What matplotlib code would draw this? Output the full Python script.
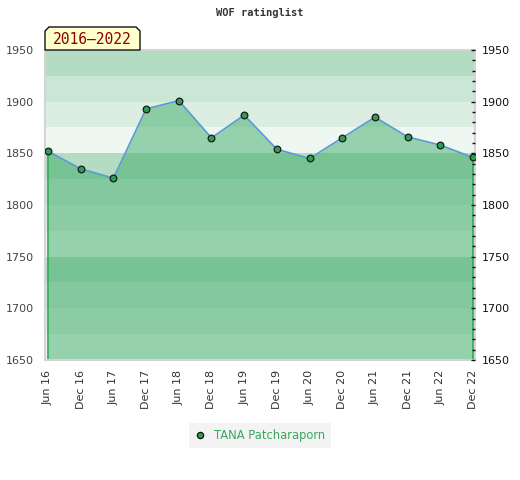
import matplotlib
matplotlib.use("Agg")
import matplotlib.pyplot as plt
import numpy as np
from matplotlib.patches import Polygon
from matplotlib.lines import Line2D
from matplotlib.ticker import MultipleLocator

periods = ["Jun 16", "Dec 16", "Jun 17", "Dec 17", "Jun 18", "Dec 18", "Jun 19",
           "Dec 19", "Jun 20", "Dec 20", "Jun 21", "Dec 21", "Jun 22", "Dec 22"]
ratings = [1852, 1835, 1826, 1893, 1901, 1865, 1887,
           1854, 1845, 1865, 1885, 1866, 1858, 1846]
player = "TANA Patcharaporn"
span_label = "2016\u20132022"

W, H = 520, 480
fig = plt.figure(figsize=(W / 100, H / 100), dpi=100)
ax = fig.add_axes([45 / W, 1 - 360 / H, 430 / W, 310 / H])

# background bands, repeating every 100 points
band_colors = ["#eef7f1", "#dcede2", "#cae6d5", "#b3dcc2"]
for i, lo in enumerate(np.arange(1650, 1950, 25)):
    ax.axhspan(lo, lo + 25, color=band_colors[i % 4], lw=0, zorder=0)

x = np.arange(len(periods))
ax.fill_between(x, ratings, 1650, color="#3dac68", alpha=0.5, lw=0, zorder=1)
ax.vlines([x[0], x[-1]], 1650, [ratings[0], ratings[-1]], color="#2eaa55", lw=1.2, zorder=2)
ax.plot(x, ratings, color="#5b9bd5", lw=1.2, zorder=3)
ax.plot(x, ratings, "o", ms=4.8, mfc="#2f9e55", mec="#1a1a1a", mew=0.9, zorder=4)

ax.set_xlim(-3 / 32.7, 13 + 2 / 32.7)
ax.set_ylim(1650, 1950)
ax.set_xticks(x)
ax.set_xticklabels(periods, rotation=90, fontsize=8, color="#333333")
ax.tick_params(axis="x", length=0, pad=7)
ax.yaxis.set_major_locator(MultipleLocator(50))
ax.tick_params(axis="y", length=0, pad=8, labelsize=8, labelcolor="#444444")
for s in ax.spines.values():
    s.set_color("#d4d4d4")
    s.set_linewidth(1.5)

ax2 = ax.twinx()
ax2.set_ylim(1650, 1950)
ax2.yaxis.set_major_locator(MultipleLocator(50))
ax2.yaxis.set_minor_locator(MultipleLocator(10))
ax2.tick_params(axis="y", which="major", direction="in", length=3, width=1,
                pad=5, labelsize=8, labelcolor="#111111", color="#111111")
ax2.tick_params(axis="y", which="minor", direction="in", length=2, width=1, color="#111111")
for s in ax2.spines.values():
    s.set_visible(False)

fig.text(0.5, 1 - 13 / H, "WOF ratinglist", ha="center", va="center",
         fontsize=7.5, family="DejaVu Sans Mono", weight="bold", color="#333333")

box_px = [(45, 50), (45, 31), (49, 27), (136, 27), (140, 31), (140, 50)]
box = Polygon([(px / W, 1 - py / H) for px, py in box_px], closed=True,
              transform=fig.transFigure, facecolor="#ffffcc", edgecolor="#111111", lw=1)
fig.patches.append(box)
fig.text(92.5 / W, 1 - 40 / H, span_label, ha="center", va="center",
         fontsize=10.5, family="DejaVu Sans Mono", color="#8b0000")

handle = Line2D([], [], ls="none", marker="o", ms=4.5, mfc="#2f9e55", mec="#111111", mew=0.9)
leg = fig.legend([handle], [player], loc="center", bbox_to_anchor=(0.5, 1 - 435.5 / H),
                 frameon=True, fancybox=False, facecolor="#f0f0f0", edgecolor="none",
                 fontsize=8.3, handlelength=1, handletextpad=0.7, borderpad=0.5)
for t in leg.get_texts():
    t.set_color("#3aa860")

fig.savefig("out.png", dpi=100)
